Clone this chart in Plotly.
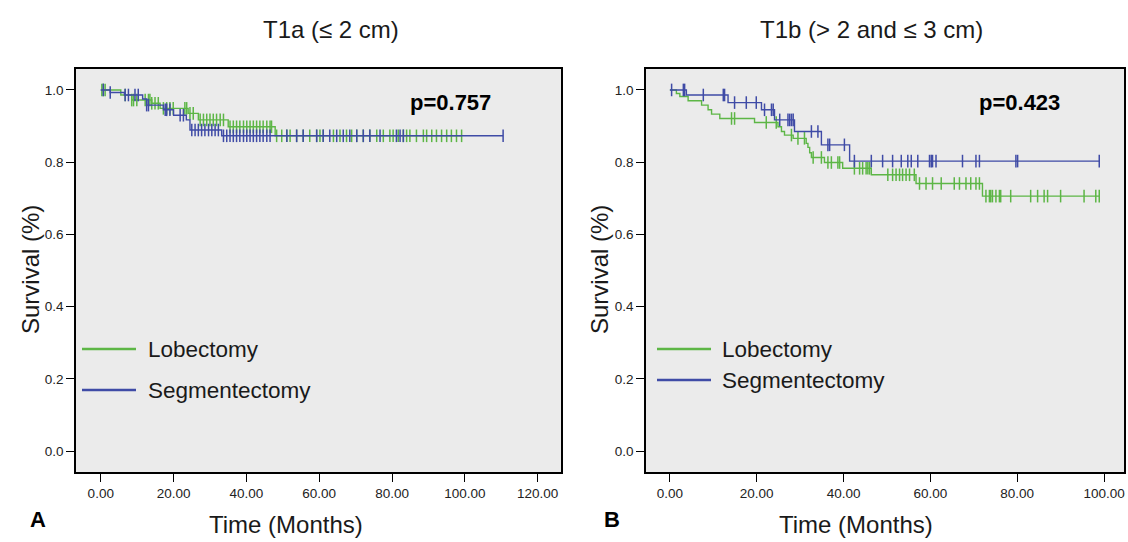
import numpy as np
import plotly.graph_objects as go

# ---------------- Data ----------------
# Panel A: T1a (<= 2 cm)
a_lob_step_t = [5.5, 8.5, 14.0, 16.3, 24.0, 26.8, 35.0, 47.9]
a_lob_step_s = [0.986, 0.972, 0.963, 0.949, 0.935, 0.917, 0.898, 0.873]
a_lob_cens = [0.3, 0.7, 1.2, 6.7, 8.5, 9.0, 9.9, 12.2, 13.1, 13.5, 14.0, 14.9, 15.8, 17.2, 18.1,
              19.0, 19.9, 23.1, 23.6, 24.5, 25.4, 27.3, 28.2, 29.1, 30.0, 30.9, 31.8, 32.8, 33.7,
              35.5, 36.4, 37.3, 38.2, 39.2, 40.1, 41.0, 41.9, 42.8, 43.7, 44.6, 45.6, 46.5, 46.9,
              48.3, 49.7, 51.1, 52.0, 53.8, 55.6, 57.4, 59.3, 60.2, 61.1, 63.9, 65.7, 67.5, 68.9,
              70.3, 72.1, 73.9, 75.8, 77.6, 79.4, 80.3, 81.7, 83.1, 84.0, 84.9, 86.7, 88.6, 89.5,
              90.9, 92.2, 93.6, 95.0, 96.3, 97.7, 99.1]

a_seg_step_t = [2.6, 6.5, 11.5, 12.6, 17.2, 20.0, 23.5, 24.5, 33.2]
a_seg_step_s = [0.993, 0.986, 0.975, 0.958, 0.945, 0.930, 0.917, 0.889, 0.873]
a_seg_cens = [0.7, 2.6, 6.7, 7.6, 9.4, 10.3, 12.6, 13.1, 17.7, 18.1, 19.0, 21.8, 22.7, 25.0, 25.9,
              26.8, 27.7, 28.6, 29.6, 30.5, 31.4, 32.3, 33.7, 34.6, 35.5, 36.4, 37.3, 38.2, 39.2,
              40.1, 41.0, 41.9, 42.8, 43.7, 44.6, 45.6, 46.5, 51.1, 53.8, 55.6, 59.3, 61.1, 62.9,
              64.8, 66.6, 68.4, 70.3, 72.1, 73.9, 76.7, 81.2, 82.2, 83.1, 110.5]

# Panel B: T1b (> 2 and <= 3 cm)
b_lob_step_t = [1.5, 2.3, 4.2, 7.3, 8.8, 9.6, 11.5, 19.5, 24.9, 25.7, 26.4, 28.4, 31.4, 31.8,
                32.2, 32.6, 35.6, 39.8, 46.4, 56.7, 72.0]
b_lob_step_s = [0.990, 0.982, 0.970, 0.958, 0.945, 0.933, 0.921, 0.910, 0.898, 0.885, 0.875,
                0.866, 0.852, 0.841, 0.826, 0.813, 0.799, 0.783, 0.765, 0.741, 0.706]
b_lob_cens = [14.2, 14.9, 22.2, 24.5, 28.0, 29.5, 31.0, 33.0, 34.9, 36.4, 37.2, 38.7, 39.1, 42.5,
              43.7, 44.4, 45.2, 45.6, 46.0, 50.2, 51.3, 52.1, 52.9, 53.6, 54.4, 55.2, 56.3, 57.5,
              59.0, 60.5, 62.5, 65.5, 66.7, 68.2, 69.3, 70.5, 71.3, 72.8, 73.6, 73.9, 74.3, 75.1,
              75.9, 76.2, 78.5, 83.1, 84.7, 86.2, 87.0, 90.0, 95.4, 98.1, 98.9]

b_seg_step_t = [3.8, 13.4, 21.1, 24.1, 28.7, 34.9, 41.4]
b_seg_step_s = [0.986, 0.965, 0.945, 0.917, 0.885, 0.848, 0.803]
b_seg_cens = [0.4, 3.1, 3.4, 7.7, 12.3, 12.6, 14.9, 17.6, 19.9, 21.8, 23.4, 23.8, 25.3, 27.2, 27.6,
              28.0, 28.4, 32.6, 34.1, 36.4, 36.8, 40.2, 42.5, 46.4, 49.0, 51.3, 53.3, 54.8, 55.6,
              57.1, 59.8, 60.2, 60.5, 61.3, 67.4, 70.5, 71.3, 79.7, 80.1, 98.9]

group_names = ["Lobectomy", "Segmentectomy"]
p_values = ["p=0.757", "p=0.423"]
panel_titles = ["T1a (\u2264 2 cm)", "T1b (> 2 and \u2264 3 cm)"]
x_ticks_a = [0, 20, 40, 60, 80, 100, 120]
x_ticks_b = [0, 20, 40, 60, 80, 100]
y_ticks = [0.0, 0.2, 0.4, 0.6, 0.8, 1.0]

GREEN = "#5DB646"
BLUE = "#3F4BA6"
W, H = 1128, 542
FONT = "Liberation Sans, Arial, sans-serif"


def km_xy(step_t, step_s, cens):
    end = max(cens + step_t)
    x = [0.0] + list(step_t) + [end]
    y = [1.0] + list(step_s) + [step_s[-1]]
    return x, y


def cens_y(step_t, step_s, cens):
    st = np.array([0.0] + list(step_t))
    ss = np.array([1.0] + list(step_s))
    idx = np.searchsorted(st, np.array(cens), side="right") - 1
    return ss[idx]


fig = go.Figure()

panels = [
    ("x", "y", [(a_lob_step_t, a_lob_step_s, a_lob_cens, GREEN),
                (a_seg_step_t, a_seg_step_s, a_seg_cens, BLUE)]),
    ("x2", "y2", [(b_lob_step_t, b_lob_step_s, b_lob_cens, GREEN),
                  (b_seg_step_t, b_seg_step_s, b_seg_cens, BLUE)]),
]

for xa, ya, curves in panels:
    for (st, ss, cs, col), name in zip(curves, group_names):
        x, y = km_xy(st, ss, cs)
        fig.add_trace(go.Scatter(x=x, y=y, mode="lines", line=dict(color=col, width=1.4, shape="hv"),
                                 xaxis=xa, yaxis=ya, showlegend=False, name=name, hoverinfo="skip"))
        fig.add_trace(go.Scatter(x=cs, y=cens_y(st, ss, cs), mode="markers",
                                 marker=dict(symbol="line-ns-open", size=9, color=col,
                                             line=dict(color=col, width=1.5)),
                                 xaxis=xa, yaxis=ya, showlegend=False, hoverinfo="skip"))


def px(v):
    return v / W


def py(v):
    return 1 - v / H


ydom = [py(472), py(69)]
axis_common = dict(showline=True, linecolor="black", linewidth=1.5, mirror=True,
                   ticks="outside", ticklen=8, tickwidth=1.3, tickcolor="black",
                   showgrid=False, zeroline=False,
                   tickfont=dict(family=FONT, size=13.5, color="#222222"))

fig.update_layout(
    width=W, height=H,
    margin=dict(l=0, r=0, t=0, b=0),
    paper_bgcolor="white",
    plot_bgcolor="#EBEBEB",
    xaxis=dict(domain=[px(76), px(561)], range=[-6.8, 126.4], tickvals=x_ticks_a,
               tickformat=".2f", anchor="y", **axis_common),
    yaxis=dict(domain=ydom, range=[-0.058, 1.058], tickvals=y_ticks, tickformat=".1f",
               anchor="x", **axis_common),
    xaxis2=dict(domain=[px(646), px(1124)], range=[-5.5, 104.6], tickvals=x_ticks_b,
                tickformat=".2f", anchor="y2", **axis_common),
    yaxis2=dict(domain=ydom, range=[-0.058, 1.058], tickvals=y_ticks, tickformat=".1f",
                anchor="x2", **axis_common),
)

ann = []


def text(x, y, s, size, bold=False, angle=0, xanchor="center", color="#1a1a1a"):
    ann.append(dict(x=px(x), y=py(y), xref="paper", yref="paper", text=("<b>%s</b>" % s) if bold else s,
                    showarrow=False, xanchor=xanchor, yanchor="middle", textangle=angle,
                    font=dict(family=FONT, size=size, color=color)))


# Titles
text(331, 29, panel_titles[0], 24)
text(871, 29, panel_titles[1], 24)
# Axis titles
text(286, 524, "Time (Months)", 24)
text(856, 524, "Time (Months)", 24)
text(30, 270, "Survival (%)", 24, angle=-90)
text(599, 270, "Survival (%)", 24, angle=-90)
# Panel letters
text(38, 519, "A", 22, bold=True, color="black")
text(612, 519, "B", 22, bold=True, color="black")
# p-values
text(450, 103, p_values[0], 22, bold=True, color="black")
text(1019, 103, p_values[1], 22, bold=True, color="black")

# Legends
shapes = []
legend_pos = [((82, 136), 146, (349, 390)), ((657, 711), 720, (349, 380))]
for (x0, x1), tx, ys in legend_pos:
    for col, name, yy in zip([GREEN, BLUE], group_names, ys):
        shapes.append(dict(type="line", xref="paper", yref="paper", x0=px(x0), x1=px(x1),
                           y0=py(yy), y1=py(yy), line=dict(color=col, width=2.5)))
        text(tx, yy, name, 22.5, xanchor="left")

fig.update_layout(annotations=ann, shapes=shapes)
fig.write_html("out.html", config={"displayModeBar": False},
               post_script="document.body.style.margin='0';document.body.style.overflow='hidden';")
